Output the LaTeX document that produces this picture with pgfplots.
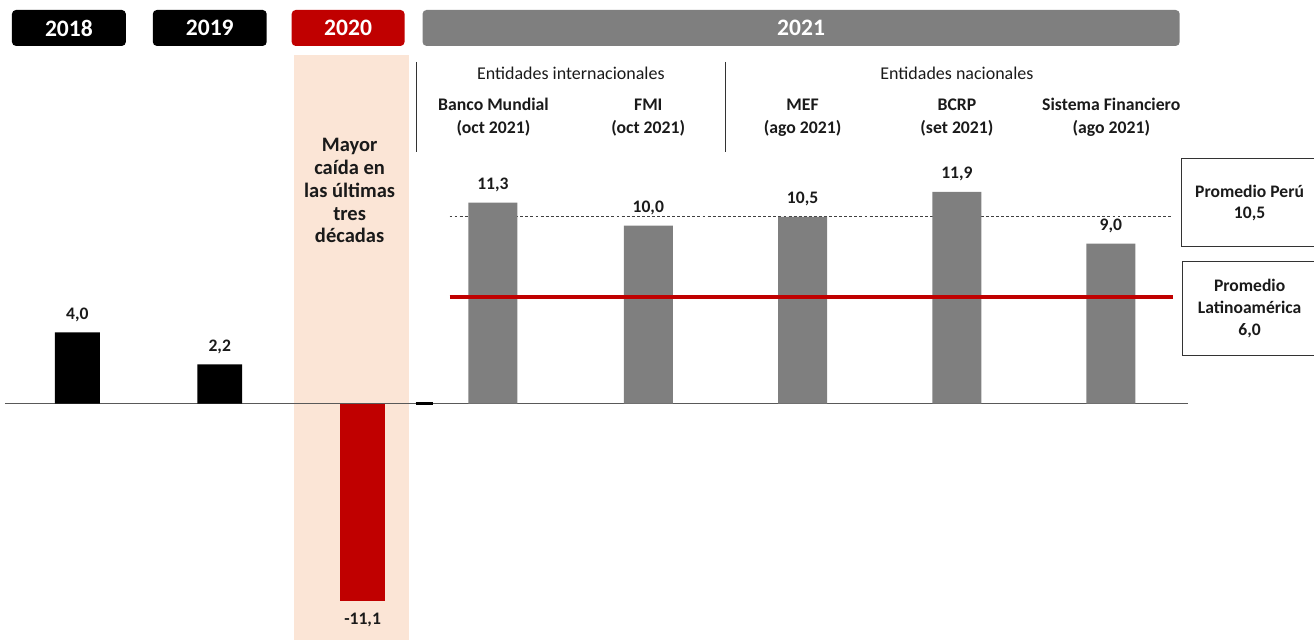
\documentclass[border=0pt]{standalone}
\usepackage{pgfplots}
\pgfplotsset{compat=1.18}
\usepackage{fontspec}
\setmainfont{Carlito}
\definecolor{bred}{HTML}{C00000}
\definecolor{bgray}{HTML}{7F7F7F}
\definecolor{peach}{HTML}{FBE5D6}
\definecolor{txt}{HTML}{1A1A1A}
\begin{document}
\begin{tikzpicture}
% background band (pixel coordinates)
\begin{scope}[x=0.75pt,y=-0.75pt]
  \fill[peach] (294,55) rectangle (409,641);
  \path (0,0) rectangle (1314,641);
\end{scope}
\begin{axis}[
  at={(0,0)}, anchor=north west,
  width=985.5pt, height=480.75pt, scale only axis,
  hide axis, clip=false,
  xmin=0, xmax=1314,
  ymin=-13.315, ymax=22.697,
  /pgf/number format/.cd, fixed, fixed zerofill, precision=1, use comma, assume math mode=true,
  /pgfplots/.cd,
  every node near coord/.append style={font=\bfseries\fontsize{13.2}{15}\selectfont, text=txt, inner sep=0pt},
]
\draw[black!65, line width=1.1pt] (axis cs:5,0) -- (axis cs:1189,0);
\draw[black, line width=1.6pt] (axis cs:416,0) -- (axis cs:433,0);
% Promedio Peru (dashed)
\addplot[black!75, line width=0.6pt, dash pattern=on 2.2pt off 1.6pt] coordinates {(450,10.5) (1174,10.5)};
% 2018, 2019
\addplot[ybar, bar width=33.75pt, bar shift=0pt, fill=black, draw=none,
  nodes near coords, every node near coord/.append style={anchor=south, yshift=8pt}]
  coordinates {(77.5,4.0) (220,2.2)};
% 2020
\addplot[ybar, bar width=33.75pt, bar shift=0pt, fill=bred, draw=none,
  nodes near coords, every node near coord/.append style={anchor=north, yshift=-9pt}]
  coordinates {(363,-11.1)};
% 2021
\addplot[ybar, bar width=36.75pt, bar shift=0pt, fill=bgray, draw=none,
  nodes near coords, every node near coord/.append style={anchor=south, yshift=8pt}]
  coordinates {(493.5,11.3) (649,10.0) (803.5,10.5) (958,11.9) (1112,9.0)};
% Promedio Latinoamerica (red)
\addplot[bred, line width=3.2pt] coordinates {(450,6.0) (1174,6.0)};
\end{axis}
\begin{scope}[x=0.75pt,y=-0.75pt]
  \tikzset{hdr/.style={font=\bfseries\fontsize{17.7}{20}\selectfont, text=white}}
  \fill[black, rounded corners=3pt] (12,10) rectangle (126,46);
  \node[hdr] at (69,28) {2018};
  \fill[black, rounded corners=3pt] (153,10) rectangle (267,46);
  \node[hdr] at (210,28) {2019};
  \fill[bred, rounded corners=3pt] (292,10) rectangle (405,46);
  \node[hdr] at (348.5,28) {2020};
  \fill[bgray, rounded corners=3pt] (423,10) rectangle (1181,46);
  \node[hdr] at (802,28) {2021};
  % separators
  \draw[black!80, line width=0.8pt] (417,62) -- (417,152);
  \draw[black!80, line width=0.8pt] (726,62) -- (726,152);
  \tikzset{grp/.style={font=\fontsize{13.5}{15}\selectfont, text=txt},
           src/.style={font=\bfseries\fontsize{13.3}{17.25}\selectfont, text=txt, align=center}}
  \node[grp] at (571.5,73) {Entidades internacionales};
  \node[grp] at (958,73) {Entidades nacionales};
  \node[src] at (494,117.5) {Banco Mundial\\(oct 2021)};
  \node[src] at (649,117.5) {FMI\\(oct 2021)};
  \node[src] at (803.5,117.5) {MEF\\(ago 2021)};
  \node[src] at (958,117.5) {BCRP\\(set 2021)};
  \node[src] at (1112.5,117.5) {Sistema Financiero\\(ago 2021)};
  % 2020 note
  \node[font=\bfseries\fontsize{15.4}{17.1}\selectfont, text=txt, align=center] at (350,191)
    {Mayor\\caída en\\las últimas\\tres\\décadas};
  % right boxes
  \draw[black!80, line width=0.7pt] (1315,159) -- (1183,159) -- (1183,247) -- (1315,247);
  \node[font=\bfseries\fontsize{13.2}{15.75}\selectfont, text=txt, align=center] at (1251,203.5)
    {Promedio Perú\\10,5};
  \draw[black!80, line width=0.7pt] (1315,262) -- (1184,262) -- (1184,356) -- (1315,356);
  \node[font=\bfseries\fontsize{13.2}{16.5}\selectfont, text=txt, align=center] at (1251,309)
    {Promedio\\Latinoamérica\\6,0};
\end{scope}
\end{tikzpicture}
\end{document}
